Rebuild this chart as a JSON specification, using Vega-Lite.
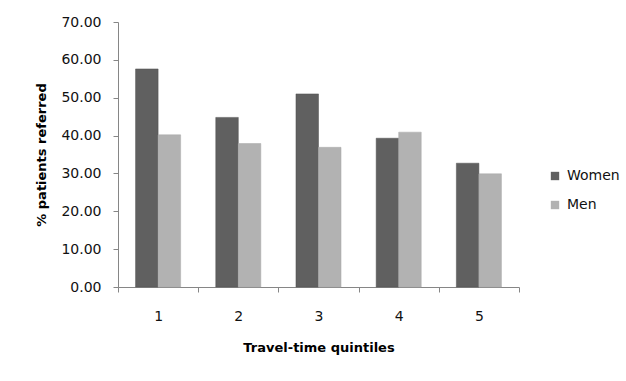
{
  "$schema": "https://vega.github.io/schema/vega-lite/v6.json",
  "autosize": "none",
  "width": 401,
  "height": 265,
  "padding": {"left": 118, "top": 22, "right": 107, "bottom": 94},
  "background": "white",
  "config": {
    "font": "DejaVu Sans",
    "view": {"stroke": null},
    "axis": {"grid": false, "domainColor": "#868686", "tickColor": "#868686", "labelColor": "#111111", "titleColor": "#000000"}
  },
  "data": {
    "values": [
      {"quintile": "1", "sex": "Women", "pct": 57.6},
      {"quintile": "1", "sex": "Men", "pct": 40.2},
      {"quintile": "2", "sex": "Women", "pct": 44.8},
      {"quintile": "2", "sex": "Men", "pct": 37.9},
      {"quintile": "3", "sex": "Women", "pct": 51.0},
      {"quintile": "3", "sex": "Men", "pct": 36.9},
      {"quintile": "4", "sex": "Women", "pct": 39.3},
      {"quintile": "4", "sex": "Men", "pct": 40.9},
      {"quintile": "5", "sex": "Women", "pct": 32.7},
      {"quintile": "5", "sex": "Men", "pct": 29.9}
    ]
  },
  "mark": {"type": "bar", "strokeWidth": 0.5},
  "encoding": {
    "x": {
      "field": "quintile", "type": "nominal",
      "scale": {"paddingInner": 0, "paddingOuter": 0},
      "axis": {"title": "Travel-time quintiles", "labelAngle": 0, "tickBand": "extent", "tickSize": 5, "labelPadding": 17, "labelFontSize": 14, "titleFontSize": 13, "titleFontWeight": "bold", "titlePadding": 18}
    },
    "xOffset": {"field": "sex", "type": "nominal", "sort": ["Women", "Men"], "scale": {"paddingInner": 0, "paddingOuter": 0.78}},
    "y": {
      "field": "pct", "type": "quantitative",
      "scale": {"domain": [0, 70]},
      "axis": {"title": "% patients referred", "values": [0, 10, 20, 30, 40, 50, 60, 70], "format": ".2f", "tickSize": 5, "labelPadding": 12, "labelFontSize": 14, "titleFontSize": 13, "titleFontWeight": "bold", "titlePadding": 12}
    },
    "color": {
      "field": "sex", "type": "nominal", "sort": ["Women", "Men"],
      "scale": {"domain": ["Women", "Men"], "range": ["#606060", "#b2b2b2"]},
      "legend": {"title": null, "orient": "none", "legendX": 430, "legendY": 147, "padding": 0, "symbolType": "square", "symbolSize": 70, "symbolStrokeWidth": 0, "labelFontSize": 14, "labelColor": "#111111", "labelOffset": 5, "rowPadding": 15}
    },
    "stroke": {
      "field": "sex", "type": "nominal", "legend": null,
      "scale": {"domain": ["Women", "Men"], "range": ["#505050", "#a8a8a8"]}
    }
  }
}
